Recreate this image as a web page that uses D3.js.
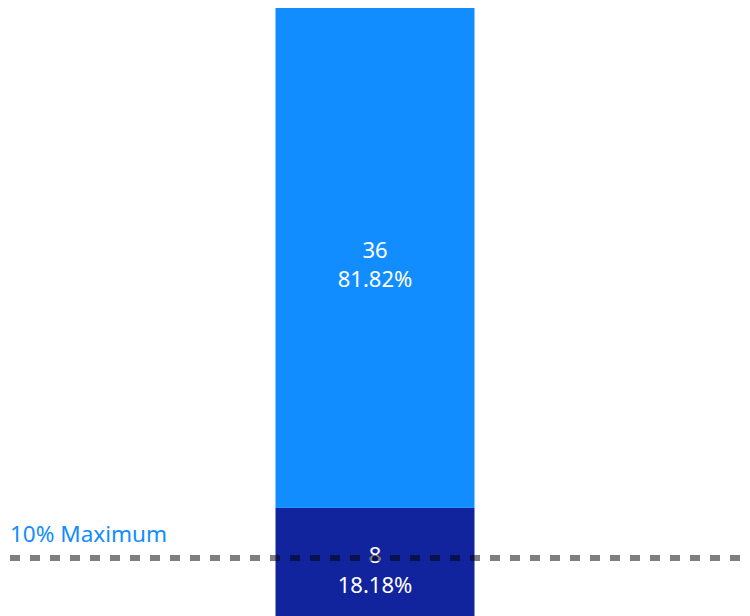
<!DOCTYPE html>
<html>
<head>
<meta charset="utf-8">
<script src="https://cdn.jsdelivr.net/npm/d3@7"></script>
<style>
  html, body { margin: 0; padding: 0; background: #fff; }
  svg { display: block; }
  text { font-family: "Segoe UI", "Noto Sans", "Open Sans", sans-serif; }
</style>
</head>
<body>
<svg id="chart" width="750" height="616"></svg>
<script>
// Data
const categories = ["Total"];
const seriesNames = ["Below", "Above"];
const seriesValues = [8, 36];            // stacked bottom -> top
const seriesColors = ["#12239E", "#118DFF"];
const thresholdShare = 0.10;
const thresholdLabel = "10% Maximum";

const W = 750, H = 616;
const svg = d3.select("#chart");

const total = d3.sum(seriesValues);

const x = d3.scaleBand().domain(categories).range([10, 740]).paddingInner(0).paddingOuter(1.36);
const y = d3.scaleLinear().domain([0, total]).range([619, 8]);

// Stack
const row = { cat: categories[0] };
seriesNames.forEach((n, i) => row[n] = seriesValues[i]);
const stack = d3.stack().keys(seriesNames)([row]);

const bw = 199;
const bx = x(categories[0]) + x.bandwidth() / 2 - bw / 2;

const g = svg.append("g");
stack.forEach((layer, i) => {
  const d = layer[0];
  g.append("rect")
    .attr("x", bx)
    .attr("width", bw)
    .attr("y", y(d[1]))
    .attr("height", y(d[0]) - y(d[1]))
    .attr("fill", seriesColors[i]);
});

// Data labels
stack.forEach((layer, i) => {
  const d = layer[0];
  const cy = (y(d[0]) + y(d[1])) / 2;
  const v = seriesValues[i];
  const pct = (v / total * 100).toFixed(2) + "%";
  const cx = bx + bw / 2;
  g.append("text").attr("x", cx).attr("y", cy)
    .attr("text-anchor", "middle").attr("fill", "#fff")
    .attr("font-size", 22).text(v);
  g.append("text").attr("x", cx).attr("y", cy + 29.5)
    .attr("text-anchor", "middle").attr("fill", "#fff")
    .attr("font-size", 22).text(pct);
});

// Threshold line
const ty = y(total * thresholdShare);
svg.append("line")
  .attr("x1", 10).attr("x2", 740)
  .attr("y1", ty).attr("y2", ty)
  .attr("stroke", "#000").attr("stroke-opacity", 0.5)
  .attr("stroke-width", 6)
  .attr("stroke-dasharray", "10,10");

svg.append("text")
  .attr("x", 10).attr("y", 541.5)
  .attr("fill", "#118DFF")
  .attr("font-size", 22.5)
  .text(thresholdLabel);
</script>
</body>
</html>
